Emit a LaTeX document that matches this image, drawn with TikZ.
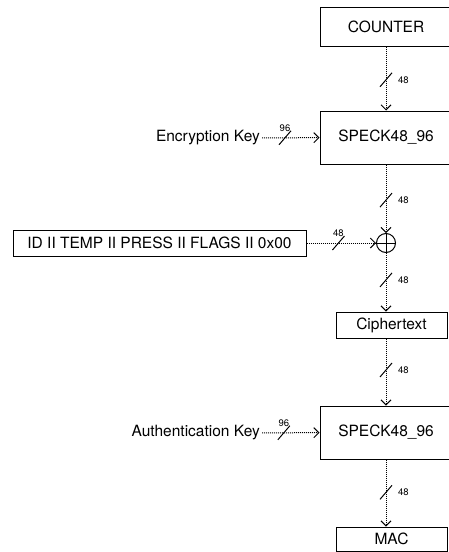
\documentclass[tikz,border=0pt]{standalone}
\usepackage{fontspec}
\setmainfont{TeX Gyre Heros}
\usetikzlibrary{arrows.meta,positioning}
\definecolor{black}{RGB}{0,0,0}

\tikzset{
	box/.style={draw=black,line width=1pt,rectangle,inner sep=0pt,font=\fontsize{15.5}{18}\selectfont},
	keytext/.style={inner sep=2pt,font=\fontsize{15.5}{18}\selectfont},
	flow/.style={black,line width=1pt,densely dotted,-{Straight Barb[length=5pt,width=10pt]}},
	bus/.style={black,line width=1pt},
	buslabel/.style={inner sep=1pt,font=\fontsize{9.5}{11}\selectfont}
}

\begin{document}
\begin{tikzpicture}[x=1pt,y=-1pt]
	\useasboundingbox (0,0) rectangle (448,552);

	\node[box,minimum width=132pt,minimum height=39pt] (counter) at (386,26.5) {COUNTER};
	\node[box,minimum width=132pt,minimum height=53pt] (speck1) at (386,137.5) {SPECK48\_96};
	\node[keytext,anchor=east] (enckey) at (262,138) {Encryption Key};
	\node[circle,draw=black,line width=1pt,minimum size=19pt,inner sep=0pt] (xor) at (386,243) {};
	\node[box,minimum width=293pt,minimum height=26pt] (id) at (159.5,243) {ID II TEMP II PRESS II FLAGS II 0x00};
	\node[box,minimum width=111pt,minimum height=26pt] (cipher) at (391.5,325) {Ciphertext};
	\node[box,minimum width=132pt,minimum height=53pt] (speck2) at (386,432.5) {SPECK48\_96};
	\node[keytext,anchor=east] (authkey) at (262,433) {Authentication Key};
	\node[box,minimum width=111pt,minimum height=24pt] (mac) at (391.5,539) {MAC};

	% xor sign
	\draw[bus] (xor.north) -- (xor.south);
	\draw[bus] (xor.west) -- (xor.east);

	% connectors
	\draw[flow] (counter) -- coordinate[pos=.52] (b1) (speck1);
	\draw[flow] (enckey) -- coordinate[pos=.4] (k1) (speck1);
	\draw[flow] (speck1) -- coordinate[pos=.52] (b2) (xor);
	\draw[flow] (id) -- coordinate[pos=.46] (b3) (xor);
	\draw[flow] (xor) -- coordinate[pos=.46] (b4) (xor |- cipher.north);
	\draw[flow] (speck2 |- cipher.south) -- coordinate[pos=.47] (b5) (speck2);
	\draw[flow] (authkey) -- coordinate[pos=.38] (k2) (speck2);
	\draw[flow] (speck2) -- coordinate[pos=.49] (b6) (speck2 |- mac.north);

	% bus widths
	\foreach \b in {b1,b2,b3,b4,b5,b6,k1,k2}
		\draw[bus] (\b) +(-6,7) -- +(6,-7);
	\foreach \b in {b1,b2,b4,b5,b6}
		\node[buslabel,right=11pt of \b] {48};
	\foreach \b/\w in {b3/48,k1/96,k2/96}
		\node[buslabel,above=5pt of \b] {\w};
\end{tikzpicture}
\end{document}
